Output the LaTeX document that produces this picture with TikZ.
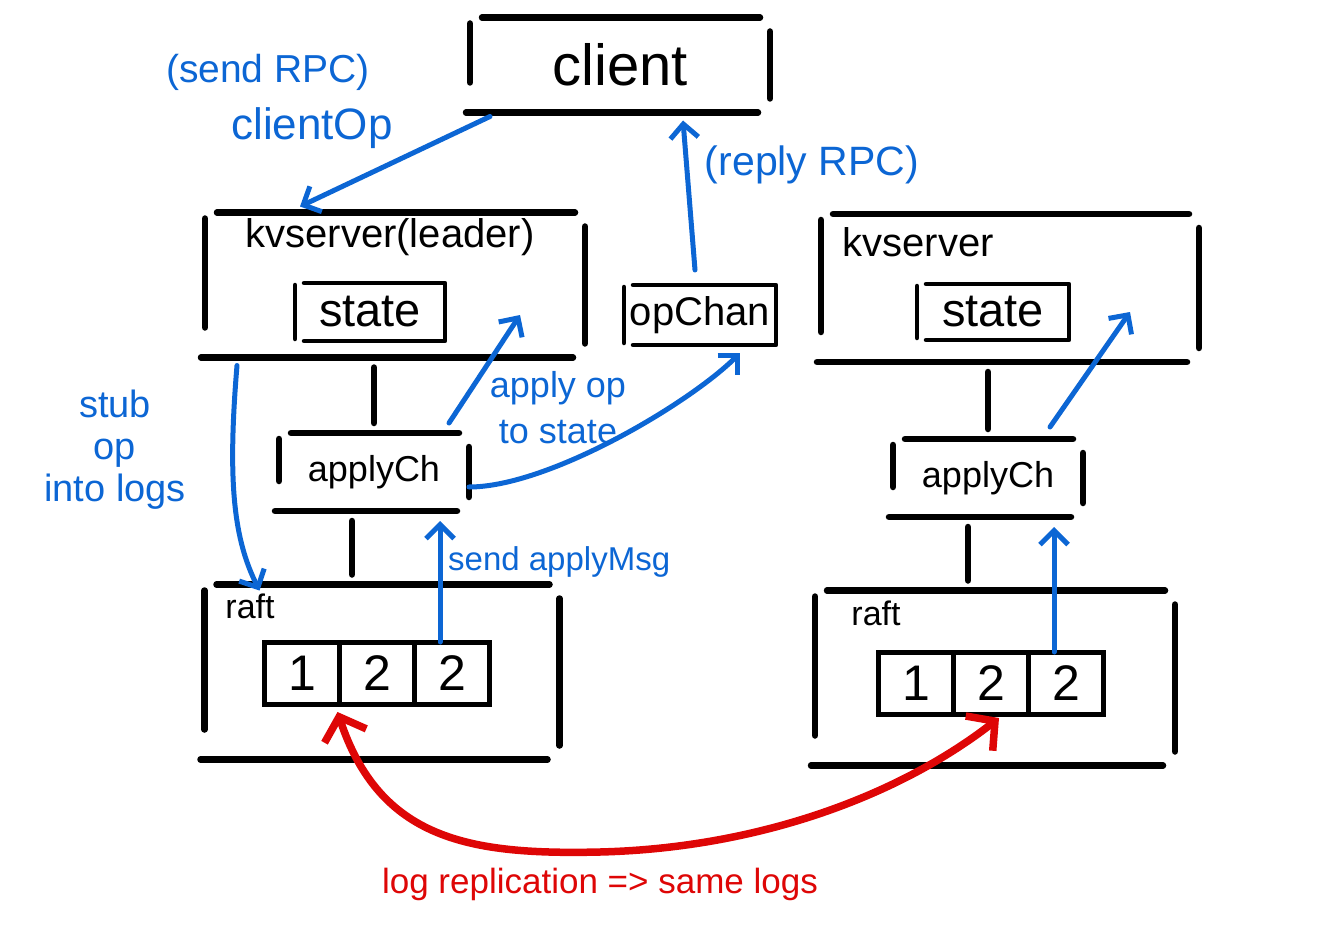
\documentclass[tikz,border=0pt]{standalone}
\usepackage{fontspec}
\setmainfont{Liberation Sans}
\usetikzlibrary{arrows.meta,calc,positioning}
\definecolor{penblue}{RGB}{12,102,212}
\definecolor{penred}{RGB}{222,6,6}
\tikzset{
  boxline/.style={line width=6.5pt, line cap=round, draw=black},
  thinline/.style={line width=4.5pt, line cap=round, line join=round, draw=black},
  hand/.style={inner sep=0pt, outer sep=0pt, align=center},
  cell/.style={hand, draw, line width=5pt, minimum width=75pt, minimum height=62pt,
    font=\fontsize{50}{50}\selectfont},
  boxtitle/.style={inner sep=0pt},
  blueflow/.style={-{Straight Barb[length=14pt,width=28pt]}, line width=5pt,
    draw=penblue, line cap=round},
  redflow/.style={{Straight Barb[length=20pt,width=44pt]}-{Straight Barb[length=20pt,width=44pt]},
    line width=7.5pt, draw=penred, line cap=round},
  bluenote/.style={text=penblue, align=center, inner sep=0pt},
  rednote/.style={text=penred, align=center, inner sep=0pt}
}
\begin{document}
\begin{tikzpicture}[x=1pt,y=-1pt]
  \useasboundingbox (0,0) rectangle (1337,941);

  % outer boxes
  \node[hand,minimum width=300pt,minimum height=95pt,font=\fontsize{58}{58}\selectfont] (client) at (620,65) {client};
  \node[hand,minimum width=380pt,minimum height=145pt] (kvleader) at (395,285) {};
  \node[hand,minimum width=378pt,minimum height=148pt] (kvfollower) at (1010,288) {};
  \node[hand,minimum width=190pt,minimum height=78pt,font=\fontsize{36}{36}\selectfont] (applyleader) at (374,472) {applyCh};
  \node[hand,minimum width=190pt,minimum height=78pt,font=\fontsize{36}{36}\selectfont] (applyfollower) at (988,478) {applyCh};
  \node[hand,minimum width=355pt,minimum height=175pt] (raftleader) at (382,672) {};
  \node[hand,minimum width=360pt,minimum height=175pt] (raftfollower) at (995,678) {};

  % titles
  \node[boxtitle,font=\fontsize{40}{40}\selectfont] (kvleadertitle) at (390,237) {kvserver(leader)};
  \node[boxtitle,font=\fontsize{40}{40}\selectfont] (kvfollowertitle) at (918,242) {kvserver};
  \node[boxtitle,font=\fontsize{34}{34}\selectfont] (raftleadertitle) at (250,606) {raft};
  \node[boxtitle,font=\fontsize{34}{34}\selectfont] (raftfollowertitle) at (876,613) {raft};

  % inner boxes
  \node[hand,minimum width=150pt,minimum height=58pt,font=\fontsize{47}{47}\selectfont] (stateleader) at (370,312) {state};
  \node[hand,minimum width=152pt,minimum height=56pt,font=\fontsize{47}{47}\selectfont] (statefollower) at (993,312) {state};
  \node[hand,minimum width=152pt,minimum height=60pt,font=\fontsize{40}{40}\selectfont] (opchan) at (700,315) {opChan};

  % logs
  \node[cell] (l1) at (302,673) {1};
  \node[cell,right=0pt of l1] (l2) {2};
  \node[cell,right=0pt of l2] (l3) {2};
  \node[cell] (f1) at (916,683) {1};
  \node[cell,right=0pt of f1] (f2) {2};
  \node[cell,right=0pt of f2] (f3) {2};

  \foreach \b in {client,kvleader,kvfollower,applyleader,applyfollower,raftleader,raftfollower}{
    \draw[boxline] ([xshift=12pt]\b.north west) -- ([xshift=-10pt]\b.north east);
    \draw[boxline] ([xshift=-4pt]\b.south west) -- ([xshift=-12pt]\b.south east);
    \draw[boxline] ([yshift=-6pt]\b.north west) -- ([yshift=30pt]\b.south west);
    \draw[boxline] ([yshift=-14pt]\b.north east) -- ([yshift=14pt]\b.south east);
  }
  \foreach \b in {stateleader,statefollower,opchan}{
    \draw[thinline] ([xshift=9pt]\b.north west) -- (\b.north east) -- (\b.south east) -- ([xshift=9pt]\b.south west);
    \draw[thinline] ([yshift=-2pt]\b.north west) -- ([yshift=2pt]\b.south west);
  }

  % links between layers
  \draw[boxline,shorten >=10pt,shorten <=10pt] (applyleader.north) -- (applyleader.north |- kvleader.south);
  \draw[boxline,shorten >=10pt,shorten <=10pt] ([xshift=-22pt]applyleader.south) -- ([xshift=-22pt]applyleader.south |- raftleader.north);
  \draw[boxline,shorten >=10pt,shorten <=10pt] (applyfollower.north) -- (applyfollower.north |- kvfollower.south);
  \draw[boxline,shorten >=10pt,shorten <=10pt] ([xshift=-20pt]applyfollower.south) -- ([xshift=-20pt]applyfollower.south |- raftfollower.north);

  % rpc flow
  \draw[blueflow] ([xshift=20pt,yshift=-4pt]client.south west) -- ([xshift=95pt,yshift=6pt]kvleader.north west);
  \draw[blueflow] ([xshift=-5pt,yshift=15pt]opchan.north) -- ([xshift=63pt,yshift=-8pt]client.south);
  \node[bluenote,font=\fontsize{39}{39}\selectfont] (sendrpc) at (268,72) {(send RPC)};
  \node[bluenote,font=\fontsize{44}{44}\selectfont] (clientop) at (312,128) {clientOp};
  \node[bluenote,font=\fontsize{41}{41}\selectfont] (replyrpc) at (812,165) {(reply RPC)};

  % leader side
  \draw[blueflow] ([xshift=32pt,yshift=-8pt]kvleader.south west) .. controls +(-10,120) and +(-25,-50) .. ([xshift=55pt,yshift=-6pt]raftleader.north west);
  \node[bluenote,font=\fontsize{38}{42}\selectfont] (stubnote) at (115,450) {stub\\op\\into logs};
  \draw[blueflow] ([xshift=-20pt,yshift=10pt]applyleader.north east) -- ([xshift=75pt,yshift=-3pt]stateleader.east);
  \node[bluenote,font=\fontsize{36}{46}\selectfont] (applynote) at (558,408) {apply op\\to state};
  \draw[blueflow] ([yshift=-15pt]applyleader.east) .. controls +(80,0) and +(-50,50) .. ([xshift=40pt,yshift=-8pt]opchan.south);
  \draw[blueflow] ([xshift=-12pt]l3.north) -- ([xshift=-12pt,yshift=-10pt]l3.north |- applyleader.south);
  \node[bluenote,font=\fontsize{33}{33}\selectfont,anchor=west] (sendnote) at (448,562) {send applyMsg};

  % follower side
  \draw[blueflow] ([xshift=-12pt]f3.north) -- ([xshift=-12pt,yshift=-10pt]f3.north |- applyfollower.south);
  \draw[blueflow] ([xshift=-33pt,yshift=12pt]applyfollower.north east) -- ([xshift=61pt]statefollower.east);

  % replication
  \draw[redflow] ([xshift=-2pt,yshift=-8pt]l1.south east) .. controls (380,840) and (470,855) .. (600,852)
    .. controls (760,848) and (900,795) .. ([xshift=8pt,yshift=-4pt]f2.south);
  \node[rednote,font=\fontsize{35}{35}\selectfont] (replnote) at (600,884) {log replication => same logs};
\end{tikzpicture}
\end{document}
